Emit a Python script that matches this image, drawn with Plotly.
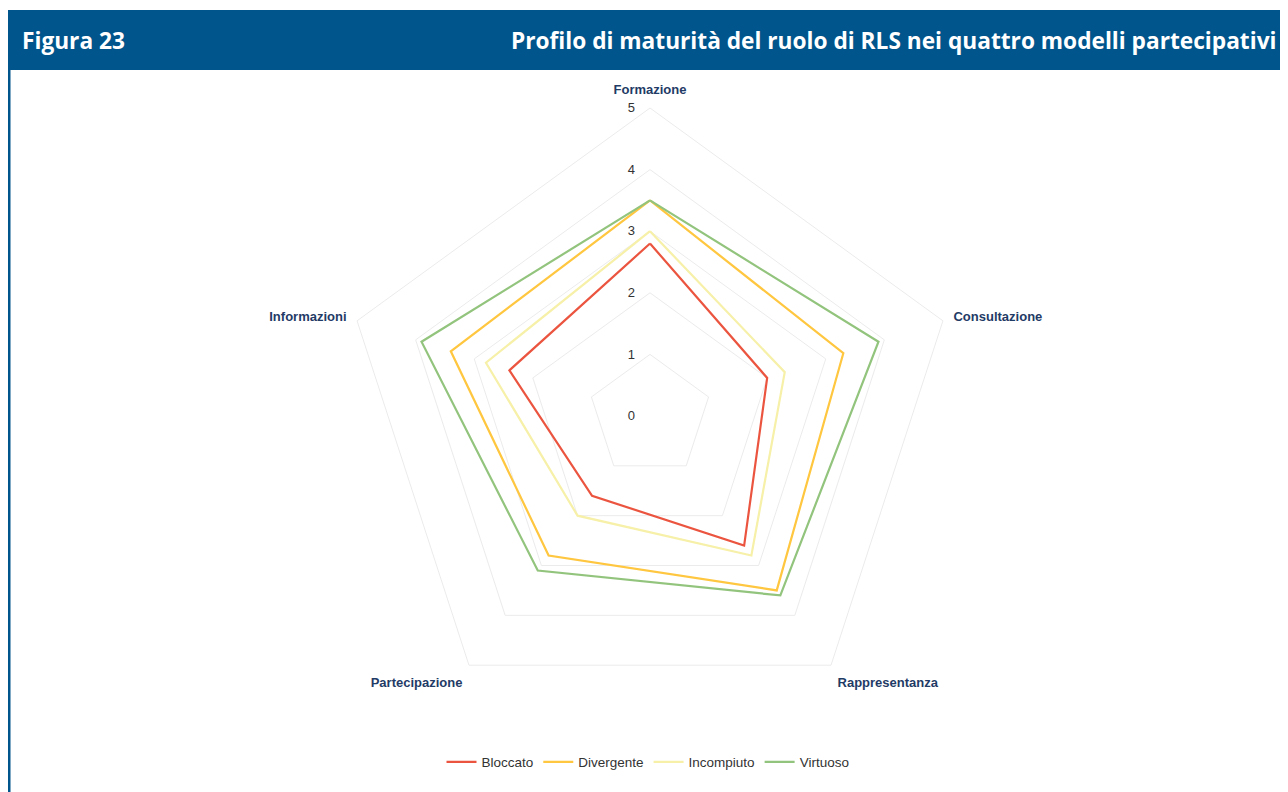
import plotly.graph_objects as go

categories = ["Formazione", "Consultazione", "Rappresentanza", "Partecipazione", "Informazioni"]
series_names = ["Bloccato", "Divergente", "Incompiuto", "Virtuoso"]
bloccato = [2.8, 2.0, 2.6, 1.6, 2.4]
divergente = [3.5, 3.3, 3.5, 2.8, 3.4]
incompiuto = [3.0, 2.3, 2.8, 2.0, 2.8]
virtuoso = [3.5, 3.9, 3.6, 3.1, 3.9]
colors = ["#EB5540", "#FFC63F", "#F6F0A8", "#93C47D"]
radial_ticks = [0, 1, 2, 3, 4, 5]

# page is offset by the 8px body margin
W, H = 1280, 784
fig = go.Figure()
for name, vals, col in zip(series_names, [bloccato, divergente, incompiuto, virtuoso], colors):
    fig.add_trace(go.Scatterpolar(
        r=vals + vals[:1], theta=categories + categories[:1],
        mode="lines", name=name, line=dict(color=col, width=2.2),
    ))

cx, cy, R = 642, 408, 308
fig.update_layout(
    width=W, height=H,
    margin=dict(l=0, r=0, t=0, b=0),
    paper_bgcolor="white", plot_bgcolor="white",
    font=dict(family="Liberation Sans, Arial, sans-serif", size=12, color="#333333"),
    polar=dict(
        domain=dict(x=[(cx - R) / W, (cx + R) / W], y=[1 - (cy + R) / H, 1 - (cy - R) / H]),
        bgcolor="white",
        gridshape="linear",
        angularaxis=dict(direction="clockwise", rotation=90, showgrid=False,
                         showline=True, linecolor="#EBEBEB", linewidth=1,
                         ticks="outside", ticklen=8, tickcolor="rgba(0,0,0,0)",
                         tickfont=dict(size=13, color="#1F3B66", weight="bold")),
        radialaxis=dict(range=[0, 5], tickvals=radial_ticks, angle=90, tickangle=90,
                        showline=False, ticks="outside", ticklen=10, tickcolor="rgba(0,0,0,0)",
                        gridcolor="#EBEBEB", gridwidth=1,
                        tickfont=dict(size=13, color="#333333"), side="counterclockwise"),
    ),
    showlegend=True,
    legend=dict(orientation="h", x=0.5, xanchor="center", y=1 - 754 / H, yanchor="middle",
                font=dict(size=13.5, color="#333333"), itemwidth=30, tracegroupgap=0),
    shapes=[
        dict(type="rect", xref="paper", yref="paper", x0=0, x1=1, y0=1 - 62 / H, y1=1 - 2 / H,
             fillcolor="#00558C", line=dict(width=0), layer="below"),
        dict(type="line", xref="paper", yref="paper", x0=1 / W, x1=1 / W, y0=0, y1=1 - 62 / H,
             line=dict(color="#00558C", width=3)),
    ],
    annotations=[
        dict(text="<b>Figura 23</b>", xref="paper", yref="paper", x=12 / W, y=1 - 32 / H,
             xanchor="left", yanchor="middle", showarrow=False,
             font=dict(family="Open Sans, Noto Sans, sans-serif", size=22.7, color="white")),
        dict(text="<b>Profilo di maturità del ruolo di RLS nei quattro modelli partecipativi</b>",
             xref="paper", yref="paper", x=1270 / W, y=1 - 32 / H,
             xanchor="right", yanchor="middle", showarrow=False,
             font=dict(family="Open Sans, Noto Sans, sans-serif", size=22.7, color="white")),
    ],
)
fig.write_html("out.html")
